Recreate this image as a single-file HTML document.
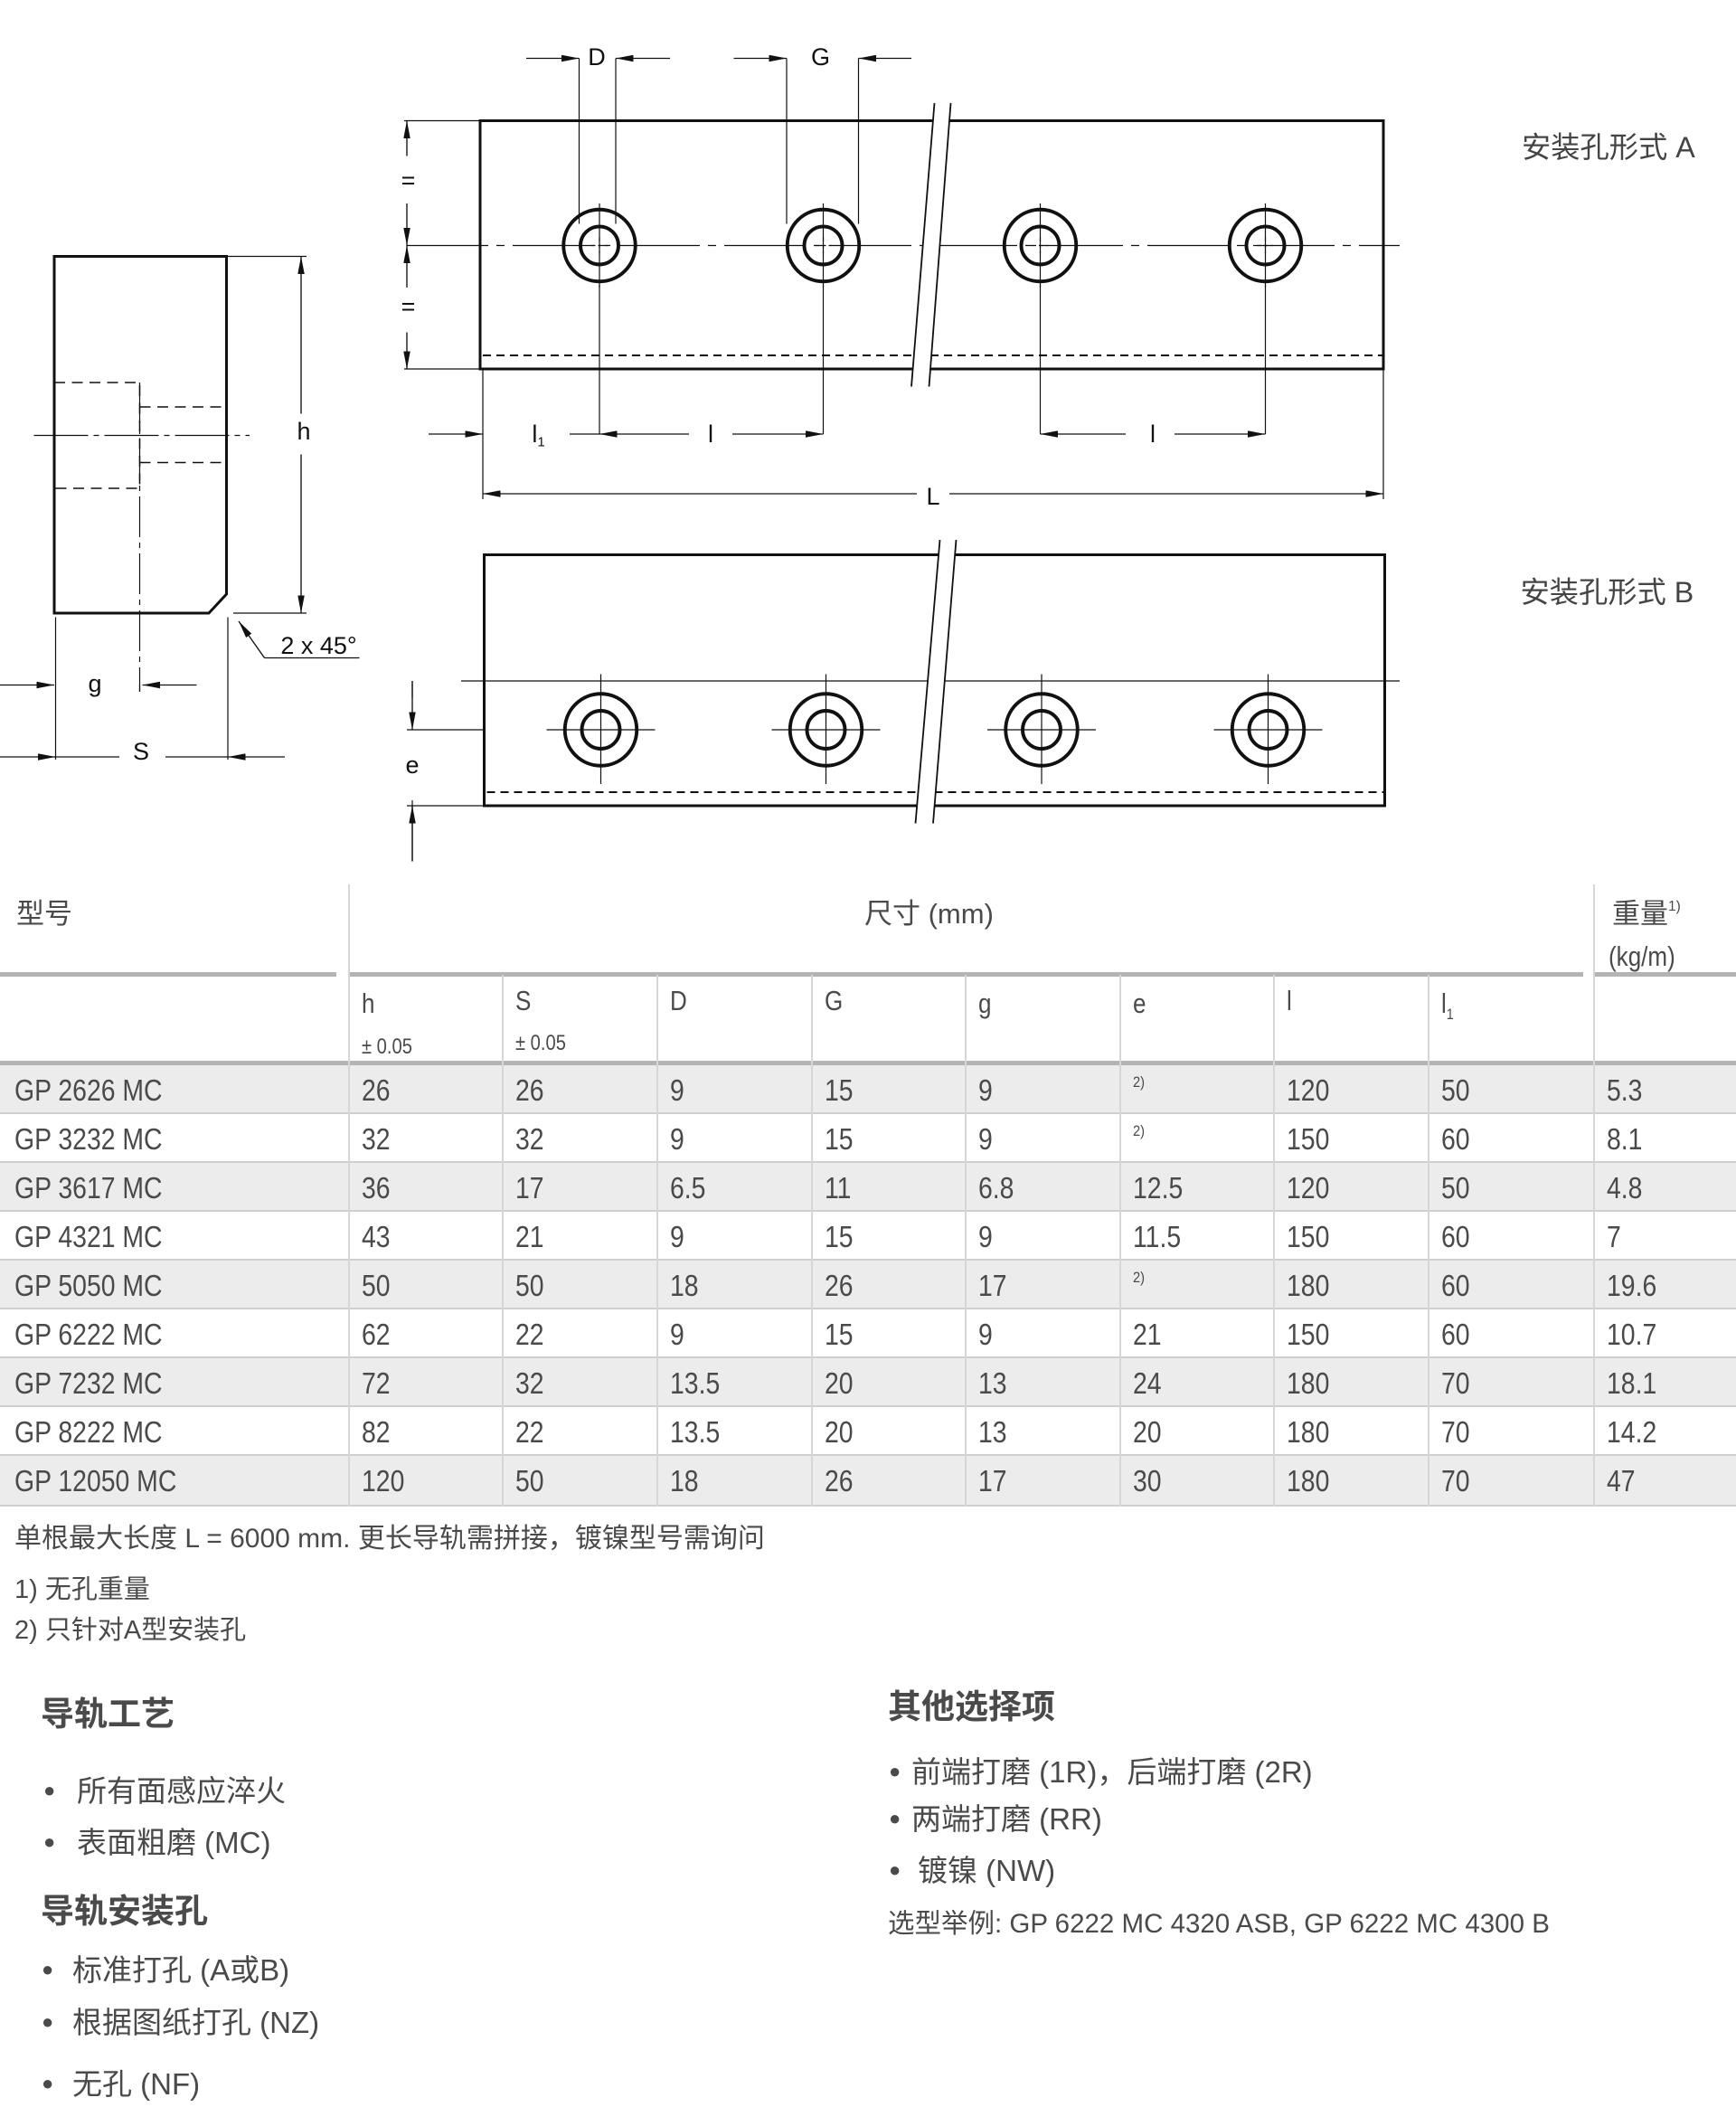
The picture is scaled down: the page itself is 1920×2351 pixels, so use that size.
<!DOCTYPE html>
<html><head><meta charset="utf-8"><style>
body{margin:0;background:#fff;}
#p{position:relative;width:1920px;height:2351px;overflow:hidden;background:#fff;font-family:"Liberation Sans","Noto Sans CJK SC",sans-serif;color:#4a4a4a;}
.t{position:absolute;white-space:nowrap;line-height:1;}
.n{display:inline-block;transform:scaleX(.84);transform-origin:left center;}
.hl{position:absolute;background:#b4b4b4;}
.vl{position:absolute;width:2px;background:#d6d6d6;}
.row{position:absolute;left:0;width:1920px;height:54px;border-bottom:2px solid #cfcfcf;box-sizing:border-box;}
.g{background:#ececec;}
.c{position:absolute;font-size:33px;top:11px;line-height:1;white-space:nowrap;}
.c span{display:inline-block;transform:scaleX(.86);transform-origin:left center;}
sup{font-size:.5em;vertical-align:top;}
.b{position:absolute;font-size:22px;line-height:1;}
</style></head><body><div id="p">
<svg style="position:absolute;left:0;top:0" width="1920" height="960" viewBox="0 0 1280 640" xmlns="http://www.w3.org/2000/svg">
<defs><marker id="a" viewBox="0 0 13 5" refX="13" refY="2.5" markerWidth="13" markerHeight="5" markerUnits="userSpaceOnUse" orient="auto"><path d="M0,0L13,2.5L0,5z" fill="#111"/></marker></defs>
<g fill="none" stroke="#111" stroke-width="2">
<path d="M40,189H167V438L154,452H40Z"/>
<rect x="354" y="89" width="666" height="183"/>
<rect x="357" y="409" width="664" height="185"/>
</g>
<g fill="none" stroke="#111" stroke-width="1" stroke-dasharray="8,5">
<path d="M40,282H103V360H40M103,300H167M103,341H167"/>
<path d="M356,262H1020M359,584H1021" stroke-width="1.3" stroke-dasharray="6,4"/>
</g>
<g fill="none" stroke="#111" stroke-width="0.8">
<path d="M25,321H184" stroke-dasharray="40,4,4,4"/>
<path d="M103,282V510" stroke-dasharray="30,4,4,4"/>
<path d="M300,181H1032" stroke-dasharray="60,6,6,6"/>
<path d="M340,502H1032"/>
<path d="M168,189H226M172,452H226"/>
<path d="M41,455V560M168,455V560M103,510V505"/>
<path d="M41,558H88M122,558H168M195,485H265"/>
</g>
<g stroke="#111" stroke-width="0.9" fill="none" marker-end="url(#a)">
<path d="M222,305V189"/><path d="M222,335V452"/>
<path d="M0,505H40"/><path d="M145,505H105"/>
<path d="M0,558H41"/><path d="M210,558H168"/>
<path d="M195,485L176,458"/>
<path d="M388,43H427"/><path d="M494,43H454"/>
<path d="M541,43H580"/><path d="M672,43H633"/>
<path d="M300,115V89"/><path d="M300,150V181"/><path d="M300,212V181"/><path d="M300,245V272"/>
<path d="M316,320H356"/><path d="M508,320H442"/><path d="M540,320H607"/>
<path d="M830,320H767"/><path d="M866,320H933"/>
<path d="M676,364H356"/><path d="M700,364H1020"/>
<path d="M304,502V538"/><path d="M304,635V594"/>
</g>
<g stroke="#111" stroke-width="0.8" fill="none">
<path d="M427,43V165M454,43V165M580,43V165M633,43V165"/>
<path d="M298,89H354M298,272H354M356,272V368M1020,272V368"/>
<path d="M420,320H442M442,210V320M607,210V320M767,210V320M933,210V320"/>
<path d="M300,538H357M300,594H357M304,502V515M304,590V635"/>
<path d="M442,150V212M607,150V212M767,150V212M933,150V212"/>
<g stroke-dasharray="3,2"><path d="M436,181H448M442,175V187M601,181H613M607,175V187M761,181H773M767,175V187M927,181H939M933,175V187"/></g>
<path d="M403,538H483M443,497V578M569,538H649M609,497V578M728,538H808M768,497V578M895,538H975M935,497V578"/>
</g>
<g fill="none" stroke="#111" stroke-width="2.6">
<circle cx="442" cy="181" r="26.5"/><circle cx="442" cy="181" r="14"/>
<circle cx="607" cy="181" r="26.5"/><circle cx="607" cy="181" r="14"/>
<circle cx="767" cy="181" r="26.5"/><circle cx="767" cy="181" r="14"/>
<circle cx="933" cy="181" r="26.5"/><circle cx="933" cy="181" r="14"/>
<circle cx="443" cy="538" r="26.5"/><circle cx="443" cy="538" r="14"/>
<circle cx="609" cy="538" r="26.5"/><circle cx="609" cy="538" r="14"/>
<circle cx="768" cy="538" r="26.5"/><circle cx="768" cy="538" r="14"/>
<circle cx="935" cy="538" r="26.5"/><circle cx="935" cy="538" r="14"/>
</g>
<polygon points="689,76 701,76 685,285 672,285" fill="#fff"/>
<polygon points="693,398 705,398 688,607 675,607" fill="#fff"/>
<g stroke="#111" stroke-width="1.2"><path d="M689,76L672,285M701,76L685,285M693,398L675,607M705,398L688,607"/></g>
<g font-family="'Liberation Sans Narrow','Liberation Sans',sans-serif" font-size="18" fill="#111" text-anchor="middle">
<text x="224" y="324">h</text><text x="70" y="510">g</text><text x="104" y="560">S</text>
<text x="440" y="48">D</text><text x="605" y="48">G</text>
<text x="301" y="139">=</text><text x="301" y="232">=</text>
<text x="397" y="326">l<tspan font-size="10" dy="3">1</tspan></text>
<text x="524" y="326">l</text><text x="850" y="326">l</text>
<text x="688" y="372">L</text><text x="304" y="570">e</text>
<text x="235" y="482">2 x 45°</text>
</g>
<g font-family="'Liberation Sans','Noto Sans CJK SC',sans-serif" font-size="21.5" fill="#444">
<text x="1122" y="116">安装孔形式 A</text>
<text x="1121" y="444">安装孔形式 B</text>
</g>
</svg>

<!-- table -->
<div class="t" style="left:18px;top:995px;font-size:31px;">型号</div>
<div class="t" style="left:956px;top:995px;font-size:31px;">尺寸 (mm)</div>
<div class="t" style="left:1783px;top:995px;font-size:31px;">重量<sup>1)</sup></div>
<div class="t" style="left:1779px;top:1042px;font-size:31px;"><span class="n">(kg/m)</span></div>
<div class="hl" style="left:0;top:1075px;width:372px;height:5px;"></div>
<div class="hl" style="left:386px;top:1075px;width:1365px;height:5px;"></div>
<div class="hl" style="left:1763px;top:1075px;width:157px;height:5px;"></div>
<div class="t" style="left:400px;top:1094px;font-size:31px;"><span class="n">h</span></div>
<div class="t" style="left:570px;top:1091px;font-size:31px;"><span class="n">S</span></div>
<div class="t" style="left:741px;top:1091px;font-size:31px;"><span class="n">D</span></div>
<div class="t" style="left:912px;top:1091px;font-size:31px;"><span class="n">G</span></div>
<div class="t" style="left:1082px;top:1094px;font-size:31px;"><span class="n">g</span></div>
<div class="t" style="left:1253px;top:1094px;font-size:31px;"><span class="n">e</span></div>
<div class="t" style="left:1423px;top:1091px;font-size:31px;"><span class="n">l</span></div>
<div class="t" style="left:1594px;top:1094px;font-size:31px;"><span class="n">l<sub style="font-size:.55em">1</sub></span></div>
<div class="t" style="left:400px;top:1146px;font-size:24px;"><span class="n">± 0.05</span></div>
<div class="t" style="left:570px;top:1142px;font-size:24px;"><span class="n">± 0.05</span></div>
<div class="hl" style="left:0;top:1173px;width:1920px;height:5px;"></div>

<div class="row g" style="top:1178px"><div class="c" style="left:16px"><span>GP 2626 MC</span></div><div class="c" style="left:400px"><span>26</span></div><div class="c" style="left:570px"><span>26</span></div><div class="c" style="left:741px"><span>9</span></div><div class="c" style="left:912px"><span>15</span></div><div class="c" style="left:1082px"><span>9</span></div><div class="c" style="left:1253px;font-size:17px;top:10px"><span>2)</span></div><div class="c" style="left:1423px"><span>120</span></div><div class="c" style="left:1594px"><span>50</span></div><div class="c" style="left:1777px"><span>5.3</span></div></div>
<div class="row" style="top:1232px"><div class="c" style="left:16px"><span>GP 3232 MC</span></div><div class="c" style="left:400px"><span>32</span></div><div class="c" style="left:570px"><span>32</span></div><div class="c" style="left:741px"><span>9</span></div><div class="c" style="left:912px"><span>15</span></div><div class="c" style="left:1082px"><span>9</span></div><div class="c" style="left:1253px;font-size:17px;top:10px"><span>2)</span></div><div class="c" style="left:1423px"><span>150</span></div><div class="c" style="left:1594px"><span>60</span></div><div class="c" style="left:1777px"><span>8.1</span></div></div>
<div class="row g" style="top:1286px"><div class="c" style="left:16px"><span>GP 3617 MC</span></div><div class="c" style="left:400px"><span>36</span></div><div class="c" style="left:570px"><span>17</span></div><div class="c" style="left:741px"><span>6.5</span></div><div class="c" style="left:912px"><span>11</span></div><div class="c" style="left:1082px"><span>6.8</span></div><div class="c" style="left:1253px"><span>12.5</span></div><div class="c" style="left:1423px"><span>120</span></div><div class="c" style="left:1594px"><span>50</span></div><div class="c" style="left:1777px"><span>4.8</span></div></div>
<div class="row" style="top:1340px"><div class="c" style="left:16px"><span>GP 4321 MC</span></div><div class="c" style="left:400px"><span>43</span></div><div class="c" style="left:570px"><span>21</span></div><div class="c" style="left:741px"><span>9</span></div><div class="c" style="left:912px"><span>15</span></div><div class="c" style="left:1082px"><span>9</span></div><div class="c" style="left:1253px"><span>11.5</span></div><div class="c" style="left:1423px"><span>150</span></div><div class="c" style="left:1594px"><span>60</span></div><div class="c" style="left:1777px"><span>7</span></div></div>
<div class="row g" style="top:1394px"><div class="c" style="left:16px"><span>GP 5050 MC</span></div><div class="c" style="left:400px"><span>50</span></div><div class="c" style="left:570px"><span>50</span></div><div class="c" style="left:741px"><span>18</span></div><div class="c" style="left:912px"><span>26</span></div><div class="c" style="left:1082px"><span>17</span></div><div class="c" style="left:1253px;font-size:17px;top:10px"><span>2)</span></div><div class="c" style="left:1423px"><span>180</span></div><div class="c" style="left:1594px"><span>60</span></div><div class="c" style="left:1777px"><span>19.6</span></div></div>
<div class="row" style="top:1448px"><div class="c" style="left:16px"><span>GP 6222 MC</span></div><div class="c" style="left:400px"><span>62</span></div><div class="c" style="left:570px"><span>22</span></div><div class="c" style="left:741px"><span>9</span></div><div class="c" style="left:912px"><span>15</span></div><div class="c" style="left:1082px"><span>9</span></div><div class="c" style="left:1253px"><span>21</span></div><div class="c" style="left:1423px"><span>150</span></div><div class="c" style="left:1594px"><span>60</span></div><div class="c" style="left:1777px"><span>10.7</span></div></div>
<div class="row g" style="top:1502px"><div class="c" style="left:16px"><span>GP 7232 MC</span></div><div class="c" style="left:400px"><span>72</span></div><div class="c" style="left:570px"><span>32</span></div><div class="c" style="left:741px"><span>13.5</span></div><div class="c" style="left:912px"><span>20</span></div><div class="c" style="left:1082px"><span>13</span></div><div class="c" style="left:1253px"><span>24</span></div><div class="c" style="left:1423px"><span>180</span></div><div class="c" style="left:1594px"><span>70</span></div><div class="c" style="left:1777px"><span>18.1</span></div></div>
<div class="row" style="top:1556px"><div class="c" style="left:16px"><span>GP 8222 MC</span></div><div class="c" style="left:400px"><span>82</span></div><div class="c" style="left:570px"><span>22</span></div><div class="c" style="left:741px"><span>13.5</span></div><div class="c" style="left:912px"><span>20</span></div><div class="c" style="left:1082px"><span>13</span></div><div class="c" style="left:1253px"><span>20</span></div><div class="c" style="left:1423px"><span>180</span></div><div class="c" style="left:1594px"><span>70</span></div><div class="c" style="left:1777px"><span>14.2</span></div></div>
<div class="row g" style="top:1610px;height:56px"><div class="c" style="left:16px"><span>GP 12050 MC</span></div><div class="c" style="left:400px"><span>120</span></div><div class="c" style="left:570px"><span>50</span></div><div class="c" style="left:741px"><span>18</span></div><div class="c" style="left:912px"><span>26</span></div><div class="c" style="left:1082px"><span>17</span></div><div class="c" style="left:1253px"><span>30</span></div><div class="c" style="left:1423px"><span>180</span></div><div class="c" style="left:1594px"><span>70</span></div><div class="c" style="left:1777px"><span>47</span></div></div>

<div class="vl" style="left:385px;top:978px;height:688px"></div>
<div class="vl" style="left:555px;top:1078px;height:588px"></div>
<div class="vl" style="left:726px;top:1078px;height:588px"></div>
<div class="vl" style="left:897px;top:1078px;height:588px"></div>
<div class="vl" style="left:1067px;top:1078px;height:588px"></div>
<div class="vl" style="left:1238px;top:1078px;height:588px"></div>
<div class="vl" style="left:1408px;top:1078px;height:588px"></div>
<div class="vl" style="left:1579px;top:1078px;height:588px"></div>
<div class="vl" style="left:1762px;top:978px;height:688px"></div>

<!-- notes -->
<div class="t" style="left:16px;top:1687px;font-size:30px;">单根最大长度 L = 6000 mm. 更长导轨需拼接，镀镍型号需询问</div>
<div class="t" style="left:16px;top:1744px;font-size:29px;">1) 无孔重量</div>
<div class="t" style="left:16px;top:1789px;font-size:29px;">2) 只针对A型安装孔</div>

<div class="t" style="left:45px;top:1877px;font-size:37px;font-weight:bold;">导轨工艺</div>
<div class="b" style="left:48px;top:1969px;">●</div><div class="t" style="left:85px;top:1964px;font-size:33px;">所有面感应淬火</div>
<div class="b" style="left:48px;top:2026px;">●</div><div class="t" style="left:85px;top:2021px;font-size:33px;">表面粗磨 (MC)</div>
<div class="t" style="left:45px;top:2095px;font-size:37px;font-weight:bold;">导轨安装孔</div>
<div class="b" style="left:46px;top:2167px;">●</div><div class="t" style="left:80px;top:2162px;font-size:33px;">标准打孔 (A或B)</div>
<div class="b" style="left:46px;top:2225px;">●</div><div class="t" style="left:80px;top:2220px;font-size:33px;">根据图纸打孔 (NZ)</div>
<div class="b" style="left:46px;top:2293px;">●</div><div class="t" style="left:80px;top:2288px;font-size:33px;">无孔 (NF)</div>

<div class="t" style="left:982px;top:1869px;font-size:37px;font-weight:bold;">其他选择项</div>
<div class="b" style="left:983px;top:1948px;">●</div><div class="t" style="left:1008px;top:1943px;font-size:33px;">前端打磨 (1R)，后端打磨 (2R)</div>
<div class="b" style="left:983px;top:2000px;">●</div><div class="t" style="left:1008px;top:1995px;font-size:33px;">两端打磨 (RR)</div>
<div class="b" style="left:983px;top:2057px;">●</div><div class="t" style="left:1015px;top:2052px;font-size:33px;">镀镍 (NW)</div>
<div class="t" style="left:982px;top:2113px;font-size:29.5px;">选型举例: GP 6222 MC 4320 ASB, GP 6222 MC 4300 B</div>
</div></body></html>
